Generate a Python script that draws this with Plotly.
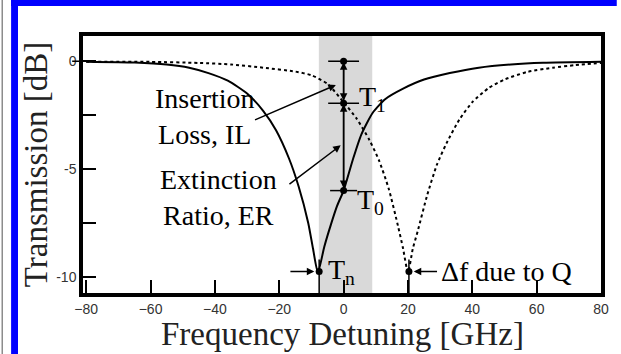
import plotly.graph_objects as go

# Ring transmission spectra (frequency detuning in GHz, transmission in dB)
freq_solid = [-80, -65, -55, -48, -42, -36, -30, -25, -21, -17, -14, -11, -9.5, -8,
              -6, -4, -2, 0, 3, 5.5, 9, 13, 18.5, 25, 33, 42, 52, 62, 80]
trans_solid = [-0.02, -0.06, -0.15, -0.3, -0.55, -0.9, -1.5, -2.3, -3.2, -4.5, -5.8, -7.5, -8.7, -9.8,
               -8.6, -7.6, -6.7, -6.0, -4.5, -3.4, -2.4, -1.75, -1.27, -0.85, -0.55, -0.3, -0.15, -0.07, -0.02]

freq_dotted = [-80, -60, -45, -35, -25, -15, -10, -5, 0, 4, 8, 11, 14, 17, 18.5, 20,
               21.5, 23, 26, 29, 32, 36, 40, 45, 50, 57, 65, 72, 80]
trans_dotted = [-0.02, -0.03, -0.08, -0.15, -0.3, -0.48, -0.65, -1.05, -1.9, -2.65, -3.65, -4.6, -5.9, -7.7, -8.7, -9.8,
                -8.7, -7.9, -6.2, -4.8, -3.8, -2.7, -1.9, -1.25, -0.85, -0.5, -0.3, -0.18, -0.08]

# Operating point and marked levels
probe_freq = 0
level_top = 0.0
level_T1 = -1.95
level_T0 = -6.0
tn_point = (-7.6, -9.75)
q_point = (20.3, -9.75)
band = (-7.7, 8.9)

x_ticks = [-80, -60, -40, -20, 0, 20, 40, 60, 80]
y_ticks = [0, -2.5, -5, -7.5, -10]
y_ticktext = ["0", "", "-5", "", "-10"]

x_range = [-81, 80]
y_range = [-10.75, 1.17]

serif = "Liberation Serif, Times New Roman, serif"
sans = "Liberation Sans, Arial, sans-serif"

# Plot-area geometry in pixels
M_L, M_R, M_T, M_B = 83, 12, 36, 61
plot_w = 621 - M_L - M_R
plot_h = 354 - M_T - M_B


def px_x(p):
    return (p - M_L) / plot_w


def px_y(p):
    return (354 - M_B - p) / plot_h


fig = go.Figure()

fig.add_trace(go.Scatter(x=freq_dotted, y=trans_dotted, mode="lines",
                         line=dict(color="black", width=2, dash="dot", shape="spline", smoothing=0.6),
                         hoverinfo="skip"))
fig.add_trace(go.Scatter(x=freq_solid, y=trans_solid, mode="lines",
                         line=dict(color="black", width=2, shape="spline", smoothing=0.6),
                         hoverinfo="skip"))

# Shaded operating band
fig.add_shape(type="rect", xref="x", yref="y", x0=band[0], x1=band[1],
              y0=y_range[0], y1=y_range[1], fillcolor="#d9d9d9", line_width=0, layer="below")

# Vertical probe line with level bars
fig.add_shape(type="line", xref="x", yref="y", x0=probe_freq, x1=probe_freq,
              y0=level_top, y1=level_T0, line=dict(color="black", width=1.5))
for lvl, half in [(level_top, 4.8), (level_T1, 4.8), (level_T0, 4.2)]:
    fig.add_shape(type="line", xref="x", yref="y", x0=probe_freq - half, x1=probe_freq + half,
                  y0=lvl, y1=lvl, line=dict(color="black", width=1.5))

# Short vertical markers at the resonance minima
for px in (tn_point[0], q_point[0]):
    fig.add_shape(type="line", xref="x", yref="y", x0=px, x1=px,
                  y0=-9.2, y1=y_range[0], line=dict(color="black", width=1.5))

# Outer stub of the 0 dB tick
fig.add_shape(type="line", xref="paper", yref="y", x0=px_x(72), x1=px_x(80),
              y0=0, y1=0, line=dict(color="black", width=1.5))

fig.add_trace(go.Scatter(x=[probe_freq, probe_freq, probe_freq, tn_point[0], q_point[0]],
                         y=[level_top, level_T1, level_T0, tn_point[1], q_point[1]],
                         mode="markers", marker=dict(color="black", size=7), hoverinfo="skip"))

arrow_common = dict(xref="x", yref="y", axref="x", ayref="y", showarrow=True,
                    arrowcolor="black", arrowwidth=1.5, arrowsize=1, text="")

# Double arrows for IL and ER spans
fig.add_annotation(x=probe_freq, y=level_top - 0.05, ax=probe_freq, ay=level_T1 + 0.05,
                   arrowhead=2, startarrowhead=2, arrowside="end+start", **arrow_common)
fig.add_annotation(x=probe_freq, y=level_T1 - 0.05, ax=probe_freq, ay=level_T0 + 0.05,
                   arrowhead=2, startarrowhead=2, arrowside="end+start", **arrow_common)

# Pointer arrows from labels
fig.add_annotation(x=-2.4, y=-1.1, ax=-28, ay=-2.75, arrowhead=2, **arrow_common)
fig.add_annotation(x=-0.9, y=-3.9, ax=-17.3, ay=-5.75, arrowhead=2, **arrow_common)
fig.add_annotation(x=tn_point[0] - 1.5, y=tn_point[1], ax=-17, ay=tn_point[1], arrowhead=2, **arrow_common)
fig.add_annotation(x=q_point[0] + 1.5, y=q_point[1], ax=29.5, ay=q_point[1], arrowhead=2, **arrow_common)

label_font = dict(family=serif, size=28, color="black")
fig.add_annotation(x=-43, y=-2.56, text="Insertion<br>Loss, IL", showarrow=False,
                   font=label_font, align="center", xref="x", yref="y")
fig.add_annotation(x=-39, y=-6.33, text="Extinction<br>Ratio, ER", showarrow=False,
                   font=label_font, align="center", xref="x", yref="y")
fig.add_annotation(x=4.3, y=-1.75, text="T<sub>1</sub>", showarrow=False, xanchor="left",
                   font=label_font, xref="x", yref="y")
fig.add_annotation(x=3.6, y=-6.5, text="T<sub>0</sub>", showarrow=False, xanchor="left",
                   font=label_font, xref="x", yref="y")
fig.add_annotation(x=-5.6, y=-9.75, text="T<sub>n</sub>", showarrow=False, xanchor="left",
                   font=label_font, xref="x", yref="y")
fig.add_annotation(x=29.5, y=-9.75, text="Δf due to Q", showarrow=False, xanchor="left",
                   font=label_font, xref="x", yref="y")

# X-axis title placed under the tick labels
fig.add_annotation(x=px_x(346), y=px_y(334), xref="paper", yref="paper", showarrow=False,
                   text="Frequency Detuning [GHz]", xanchor="center", yanchor="middle",
                   font=dict(family=serif, size=33, color="#222222"))

fig.update_layout(
    width=621, height=354,
    margin=dict(l=M_L, r=M_R, t=M_T, b=M_B),
    paper_bgcolor="white", plot_bgcolor="white",
    showlegend=False,
    xaxis=dict(range=x_range, tickvals=x_ticks, ticks="inside", ticklen=13, tickwidth=1.5,
               tickcolor="black", showline=True, linecolor="black", linewidth=3.5, mirror=True,
               showgrid=False, zeroline=False,
               tickfont=dict(family=sans, size=14, color="#333333")),
    yaxis=dict(range=y_range, tickvals=y_ticks, ticktext=y_ticktext, ticks="inside", ticklen=13,
               tickwidth=1.5, tickcolor="black", showline=True, linecolor="black", linewidth=3.5,
               mirror=True, showgrid=False, zeroline=False,
               tickfont=dict(family=sans, size=14, color="#333333"),
               title=dict(text="Transmission [dB]", font=dict(family=serif, size=33, color="#222222"),
                          standoff=0)),
)

# Page border strips
fig.add_shape(type="rect", xref="paper", yref="paper", x0=px_x(10), x1=px_x(625),
              y0=px_y(6), y1=px_y(-5), fillcolor="#0000ff", line_width=0)
fig.add_shape(type="rect", xref="paper", yref="paper", x0=px_x(10), x1=px_x(17),
              y0=px_y(360), y1=px_y(-5), fillcolor="#0000ff", line_width=0)
fig.add_shape(type="line", xref="paper", yref="paper", x0=px_x(1), x1=px_x(1),
              y0=px_y(360), y1=px_y(-5), line=dict(color="#8c8c8c", width=1.5))

fig.write_html("out.html")
